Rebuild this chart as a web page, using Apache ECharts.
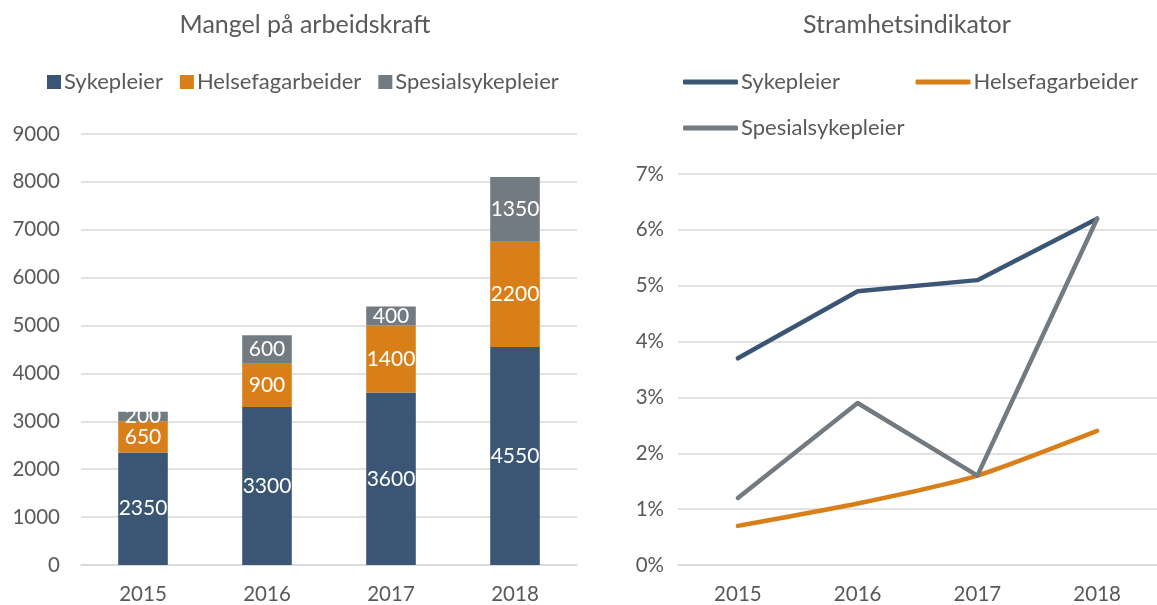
<!DOCTYPE html>
<html>
<head>
<meta charset="utf-8">
<script src="https://cdn.jsdelivr.net/npm/echarts@6/dist/echarts.min.js"></script>
<style>
  html, body { margin: 0; padding: 0; background: #fff; }
  #chart { width: 1157px; height: 605px; }
</style>
</head>
<body>
<div id="chart"></div>
<script>
// data
const years = ['2015', '2016', '2017', '2018']
const mangelSykepleier = [2350, 3300, 3600, 4550]
const mangelHelsefag = [650, 900, 1400, 2200]
const mangelSpesial = [200, 600, 400, 1350]
const stramSykepleier = [3.7, 4.9, 5.1, 6.2]
const stramHelsefag = [0.7, 1.1, 1.6, 2.4]
const stramSpesial = [1.2, 2.9, 1.6, 6.2]

const FONT = 'Lato, "Open Sans", sans-serif'
const TXT = '#595959'
const BLUE = '#3b5674'
const ORANGE = '#d97f19'
const GREY = '#737b82'

const barLabel = {
  show: true,
  position: 'inside',
  color: '#fff',
  fontSize: 21,
  fontFamily: FONT
}
const legendText = { fontSize: 22, color: TXT, fontFamily: FONT, padding: [0, 0, 0, -2] }
const tickText = { fontSize: 20.5, color: TXT, fontFamily: FONT }

const chart = echarts.init(document.getElementById('chart'))

chart.setOption({
  animation: false,
  textStyle: { fontFamily: FONT, color: TXT },
  title: [
    { text: 'Mangel på arbeidskraft', left: 300, top: 7, textAlign: 'center',
      textStyle: { fontSize: 25, fontWeight: 'normal', color: TXT, fontFamily: FONT } },
    { text: 'Stramhetsindikator', left: 902, top: 7, textAlign: 'center',
      textStyle: { fontSize: 25, fontWeight: 'normal', color: TXT, fontFamily: FONT } }
  ],
  legend: [
    {
      data: ['Sykepleier', 'Helsefagarbeider', 'Spesialsykepleier'].map(n => ({ name: n })),
      left: 42, top: 66, icon: 'rect', itemWidth: 14, itemHeight: 14, itemGap: 17,
      selectedMode: false, textStyle: legendText
    },
    {
      data: [{ name: 'Sykepleier ' }, { name: 'Helsefagarbeider ' }],
      left: 678, top: 66, icon: 'roundRect', itemWidth: 55, itemHeight: 5, itemGap: 70,
      selectedMode: false, textStyle: legendText
    },
    {
      data: [{ name: 'Spesialsykepleier ' }],
      left: 678, top: 112, icon: 'roundRect', itemWidth: 55, itemHeight: 5,
      selectedMode: false, textStyle: legendText
    }
  ],
  grid: [
    { left: 81, width: 496, top: 134, bottom: 39 },
    { left: 678, width: 482, top: 174, bottom: 39 }
  ],
  xAxis: [
    {
      type: 'category', gridIndex: 0, data: years,
      axisLine: { lineStyle: { color: '#d9d9d9', width: 1.5 } },
      axisTick: { show: false },
      axisLabel: { ...tickText, margin: 19 }
    },
    {
      type: 'category', gridIndex: 1, data: years,
      axisLine: { lineStyle: { color: '#d9d9d9', width: 1.5 } },
      axisTick: { show: false },
      axisLabel: { ...tickText, margin: 19 }
    }
  ],
  yAxis: [
    {
      type: 'value', gridIndex: 0, min: 0, max: 9000, interval: 1000,
      splitLine: { lineStyle: { color: '#d9d9d9', width: 1.5 } },
      axisLabel: { ...tickText, margin: 21, formatter: v => String(v) }
    },
    {
      type: 'value', gridIndex: 1, min: 0, max: 7, interval: 1,
      splitLine: { lineStyle: { color: '#d9d9d9', width: 1.5 } },
      axisLabel: { ...tickText, margin: 14, formatter: '{value}%' }
    }
  ],
  series: [
    { name: 'Sykepleier', type: 'bar', stack: 'm', barWidth: '40%', data: mangelSykepleier,
      itemStyle: { color: BLUE }, label: barLabel },
    { name: 'Helsefagarbeider', type: 'bar', stack: 'm', data: mangelHelsefag,
      itemStyle: { color: ORANGE }, label: barLabel },
    { name: 'Spesialsykepleier', type: 'bar', stack: 'm', data: mangelSpesial,
      itemStyle: { color: GREY }, label: barLabel },
    { name: 'Sykepleier ', type: 'line', xAxisIndex: 1, yAxisIndex: 1, data: stramSykepleier,
      symbol: 'none', lineStyle: { color: BLUE, width: 4.5, cap: 'round', join: 'round' },
      itemStyle: { color: BLUE } },
    { name: 'Helsefagarbeider ', type: 'line', xAxisIndex: 1, yAxisIndex: 1, data: stramHelsefag,
      symbol: 'none', smooth: 0.2, lineStyle: { color: ORANGE, width: 4.5, cap: 'round', join: 'round' },
      itemStyle: { color: ORANGE } },
    { name: 'Spesialsykepleier ', type: 'line', xAxisIndex: 1, yAxisIndex: 1, data: stramSpesial,
      symbol: 'none', lineStyle: { color: GREY, width: 4.5, cap: 'round', join: 'round' },
      itemStyle: { color: GREY } }
  ]
})
</script>
</body>
</html>
